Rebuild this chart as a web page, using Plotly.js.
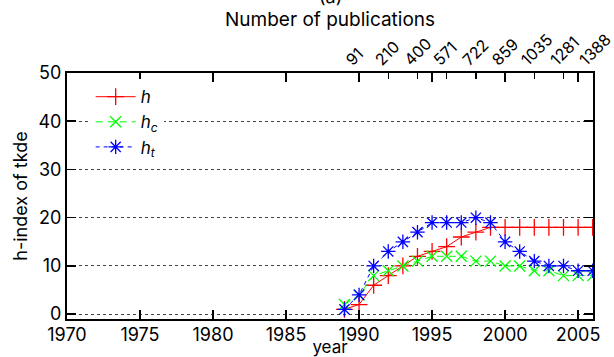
<!DOCTYPE html>
<html>
<head>
<meta charset="utf-8">
<script src="https://cdn.plot.ly/plotly-3.0.1.min.js"></script>
<style>html,body{margin:0;padding:0;background:#fff;}#chart{width:614px;height:357px;}</style>
</head>
<body>
<div id="chart"></div>
<script>
// Data
const years = [1989, 1990, 1991, 1992, 1993, 1994, 1995, 1996, 1997, 1998, 1999, 2000, 2001, 2002, 2003, 2004, 2005, 2006];
const hValues  = [1, 2, 6, 8, 10, 12, 13, 14, 16, 17, 18, 18, 18, 18, 18, 18, 18, 18];
const hcValues = [2, 4, 8, 9, 10, 11, 12, 12, 12, 11, 11, 10, 10, 9, 9, 8, 8, 8];
const htValues = [1, 4, 10, 13, 15, 17, 19, 19, 19, 20, 19, 15, 13, 11, 10, 10, 9, 9];

// Top axis: cumulative number of publications
const pubYears  = [1990, 1992, 1994, 1996, 1998, 2000, 2002, 2004, 2006];
const pubLabels = ['91', '210', '400', '571', '722', '859', '1035', '1281', '1388'];

const seriesNames = ['<i>h</i>', '<i>h</i><sub><i>c</i></sub>', '<i>h</i><sub><i>t</i></sub>'];
const yTicks = [0, 10, 20, 30, 40, 50];

const FONT = 'Inter, "DejaVu Sans", sans-serif';

const traces = [
  {
    x: years, y: hValues, name: seriesNames[0], type: 'scatter', mode: 'lines+markers',
    line: {color: '#ff0000', width: 1},
    marker: {symbol: 'cross-thin-open', size: 12, color: '#ff0000', line: {color: '#ff0000', width: 1.3}}
  },
  {
    x: years, y: hcValues, name: seriesNames[1], type: 'scatter', mode: 'lines+markers',
    line: {color: '#00ff00', width: 1, dash: '7px,5px'},
    marker: {symbol: 'x-thin-open', size: 11, color: '#00ff00', line: {color: '#00ff00', width: 1.3}}
  },
  {
    x: years, y: htValues, name: seriesNames[2], type: 'scatter', mode: 'lines+markers',
    line: {color: '#0000ff', width: 1, dash: '4px,4px'},
    marker: {symbol: 'asterisk-open', size: 12, color: '#0000ff', line: {color: '#0000ff', width: 1.3}}
  },
  {
    x: pubYears, y: pubYears.map(() => null), xaxis: 'x2', yaxis: 'y',
    type: 'scatter', mode: 'markers', showlegend: false, hoverinfo: 'skip'
  }
];

const layout = {
  width: 614, height: 357,
  margin: {l: 67, r: 21, t: 73, b: 38, pad: 0},
  paper_bgcolor: '#ffffff', plot_bgcolor: '#ffffff',
  font: {family: FONT, size: 18, color: '#000000'},
  showlegend: true,
  legend: {
    x: 0.045, y: 0.975, xanchor: 'left', yanchor: 'top',
    bgcolor: '#ffffff', borderwidth: 0,
    font: {family: FONT, size: 17, color: '#000000'},
    itemwidth: 40, tracegroupgap: 0
  },
  xaxis: {
    range: [1970, 2006.02], tick0: 1970, dtick: 5,
    ticks: 'inside', ticklen: 9, tickwidth: 1.5, tickcolor: '#000',
    showline: true, linewidth: 2, linecolor: '#000', mirror: 'ticks',
    showgrid: false, zeroline: false, automargin: false,
    ticklabelstandoff: -2,
    tickfont: {family: FONT, size: 18},
    title: {text: 'year', font: {family: FONT, size: 17}, standoff: 5}
  },
  xaxis2: {
    overlaying: 'x', side: 'top', anchor: 'y',
    range: [1970, 2006.02], tickmode: 'array', tickvals: pubYears, ticktext: pubLabels,
    ticks: 'inside', ticklen: 6, tickwidth: 1.5, tickcolor: '#000', tickangle: -45,
    ticklabelshift: -12, ticklabeloverflow: 'allow',
    showline: false, showgrid: false, zeroline: false, automargin: false,
    tickfont: {family: FONT, size: 16}
  },
  yaxis: {
    range: [-1, 50], tickmode: 'array', tickvals: yTicks,
    ticks: 'inside', ticklen: 9, tickwidth: 1.5, tickcolor: '#000',
    showline: true, linewidth: 2, linecolor: '#000', mirror: 'ticks',
    showgrid: true, gridcolor: '#444', griddash: 'dot', gridwidth: 1,
    zeroline: false, automargin: false,
    tickfont: {family: FONT, size: 18},
    title: {text: 'h-index of tkde', font: {family: FONT, size: 18}, standoff: 6}
  },
  annotations: [
    {text: 'Number of publications', xref: 'paper', yref: 'paper', x: 0.5, y: 1.2195,
     xanchor: 'center', yanchor: 'middle', showarrow: false,
     font: {family: FONT, size: 19, color: '#000'}},
    {text: '(a)', xref: 'paper', yref: 'paper', x: 0.5, y: 1.31, xanchor: 'center', yanchor: 'middle',
     showarrow: false, font: {family: FONT, size: 18, color: '#000'}}
  ]
};

Plotly.newPlot('chart', traces, layout, {displayModeBar: false, staticPlot: true});
</script>
</body>
</html>
